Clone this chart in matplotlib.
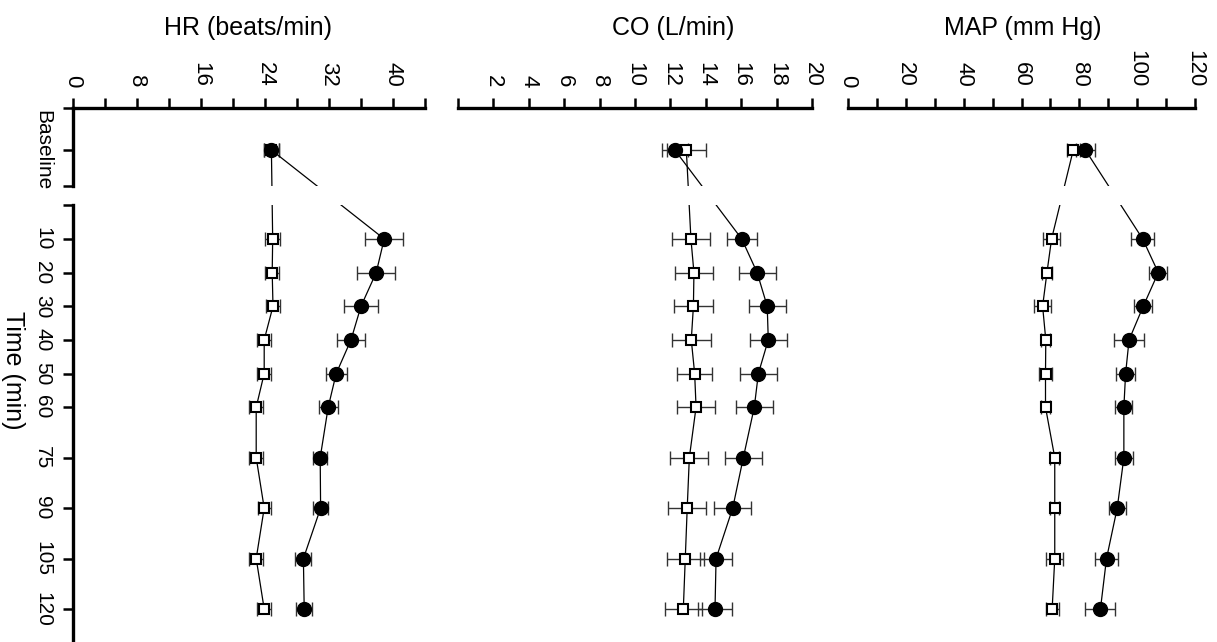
import numpy as np
import matplotlib.pyplot as plt

plt.rcParams['font.family'] = ['Liberation Sans', 'DejaVu Sans']

times = [10, 20, 30, 40, 50, 60, 75, 90, 105, 120]

# HR (beats/min)
hr_open_base, hr_open_base_err = 24.8, 0.9
hr_fill_base, hr_fill_base_err = 24.8, 0.9
hr_open = [24.96, 24.9, 25.0, 23.9, 23.9, 22.9, 22.9, 23.9, 22.9, 23.9]
hr_open_err = [0.9, 0.9, 0.9, 0.9, 0.9, 0.9, 0.9, 0.8, 0.9, 0.9]
hr_fill = [38.9, 37.9, 36.0, 34.75, 32.9, 31.9, 30.9, 30.95, 28.8, 28.9]
hr_fill_err = [2.35, 2.4, 2.1, 1.7, 1.3, 1.2, 0.9, 0.9, 1.0, 1.0]

# CO (L/min)
co_open_base, co_open_base_err = 12.9, 1.1
co_fill_base, co_fill_base_err = 12.25, 0.75
co_open = [13.16, 13.33, 13.3, 13.18, 13.37, 13.45, 13.07, 12.95, 12.84, 12.73]
co_open_err = [1.08, 1.08, 1.1, 1.09, 1.0, 1.09, 1.08, 1.08, 1.05, 1.05]
co_fill = [16.03, 16.9, 17.47, 17.53, 16.97, 16.74, 16.12, 15.52, 14.58, 14.52]
co_fill_err = [0.85, 1.05, 1.05, 1.05, 1.05, 1.05, 1.05, 1.06, 0.9, 0.96]

# MAP (mm Hg)
map_open_base, map_open_base_err = 77.9, 2.3
map_fill_base, map_fill_base_err = 82.1, 3.2
map_open = [70.4, 68.8, 67.3, 68.4, 68.3, 68.3, 71.5, 71.5, 71.5, 70.6]
map_open_err = [2.8, 1.6, 3.0, 1.6, 2.1, 1.6, 1.6, 1.6, 2.9, 2.3]
map_fill = [101.9, 107.3, 102.1, 97.2, 96.0, 95.4, 95.4, 93.1, 89.4, 87.3]
map_fill_err = [3.9, 3.1, 3.1, 5.1, 3.3, 2.9, 3.2, 3.0, 4.0, 5.2]

W, H = 1217, 642
fig = plt.figure(figsize=(W / 100, H / 100), dpi=100)

# baseline row sits above time 0 on the same vertical scale
BASE_POS = -16.4
TOP_LIM = (-5.7, -28.9)
BOT_LIM = (129.8, 0)
SPINE_W = 2.4


def draw_series(ax, base, base_err, vals, errs, filled):
    x = [base] + vals
    y = [BASE_POS] + times
    e = [base_err] + errs
    ax.errorbar(x, y, xerr=e, fmt='none', ecolor='0.2', elinewidth=1.0,
                capsize=5, capthick=1.0, zorder=2)
    if filled:
        ax.plot(x, y, color='k', lw=0.9, marker='o', ms=10, mfc='k',
                mec='k', zorder=4)
    else:
        ax.plot(x, y, color='k', lw=0.9, marker='s', ms=7.2, mfc='white',
                mec='k', mew=1.5, zorder=3)


def panel(x0, width, xmax, step, label_step, title, title_x, series,
          left_axis=False, zero_label=True):
    ax_top = fig.add_axes([x0 / W, 1 - 186 / H, width / W, 78 / H])
    ax_bot = fig.add_axes([x0 / W, 0, width / W, (H - 205.3) / H])

    for ax, lim in ((ax_top, TOP_LIM), (ax_bot, BOT_LIM)):
        ax.set_xlim(0, xmax)
        ax.set_ylim(*lim)
        for s in ax.spines.values():
            s.set_visible(False)
        for args in series:
            draw_series(ax, *args)
        if left_axis:
            ax.spines['left'].set_visible(True)
            ax.spines['left'].set_linewidth(SPINE_W)
            ax.tick_params(axis='y', direction='out', length=7, width=1.8,
                           labelrotation=-90, pad=8)
        else:
            ax.set_yticks([])

    # value axis on top
    ax_top.spines['top'].set_visible(True)
    ax_top.spines['top'].set_linewidth(SPINE_W)
    ax_top.xaxis.tick_top()
    ticks = np.arange(0, xmax + step / 2, step)
    ax_top.set_xticks(ticks)
    labels = []
    for t in ticks:
        if t % label_step == 0 and (t != 0 or zero_label):
            labels.append(f"{t:g}")
        else:
            labels.append("")
    ax_top.set_xticklabels(labels)
    ax_top.tick_params(axis='x', direction='out', length=7, width=1.8,
                       labelrotation=-90, labelsize=16, pad=8)
    ax_bot.set_xticks([])

    if left_axis:
        ax_top.set_yticks([TOP_LIM[1], BASE_POS, TOP_LIM[0]])
        ax_top.set_yticklabels(['', 'Baseline', ''], fontsize=15)
        ax_bot.set_yticks([0] + times)
        ax_bot.set_yticklabels([''] + [str(t) for t in times], fontsize=15)
        for ax in (ax_top, ax_bot):
            for lbl in ax.get_yticklabels():
                lbl.set_va('center')

    fig.text(title_x / W, 1 - 28 / H, title, ha='center', va='center',
             fontsize=18)


panel(73, 352, 44, 4, 8, 'HR (beats/min)', 248,
      [(hr_open_base, hr_open_base_err, hr_open, hr_open_err, False),
       (hr_fill_base, hr_fill_base_err, hr_fill, hr_fill_err, True)],
      left_axis=True)
panel(458, 354, 20, 2, 2, 'CO (L/min)', 673,
      [(co_open_base, co_open_base_err, co_open, co_open_err, False),
       (co_fill_base, co_fill_base_err, co_fill, co_fill_err, True)],
      zero_label=False)
panel(848, 347, 120, 10, 20, 'MAP (mm Hg)', 1023,
      [(map_open_base, map_open_base_err, map_open, map_open_err, False),
       (map_fill_base, map_fill_base_err, map_fill, map_fill_err, True)])

fig.text(12.5 / W, 1 - 370 / H, 'Time (min)', rotation=-90, ha='center',
         va='center', fontsize=18)

fig.savefig('out.png', dpi=100)
